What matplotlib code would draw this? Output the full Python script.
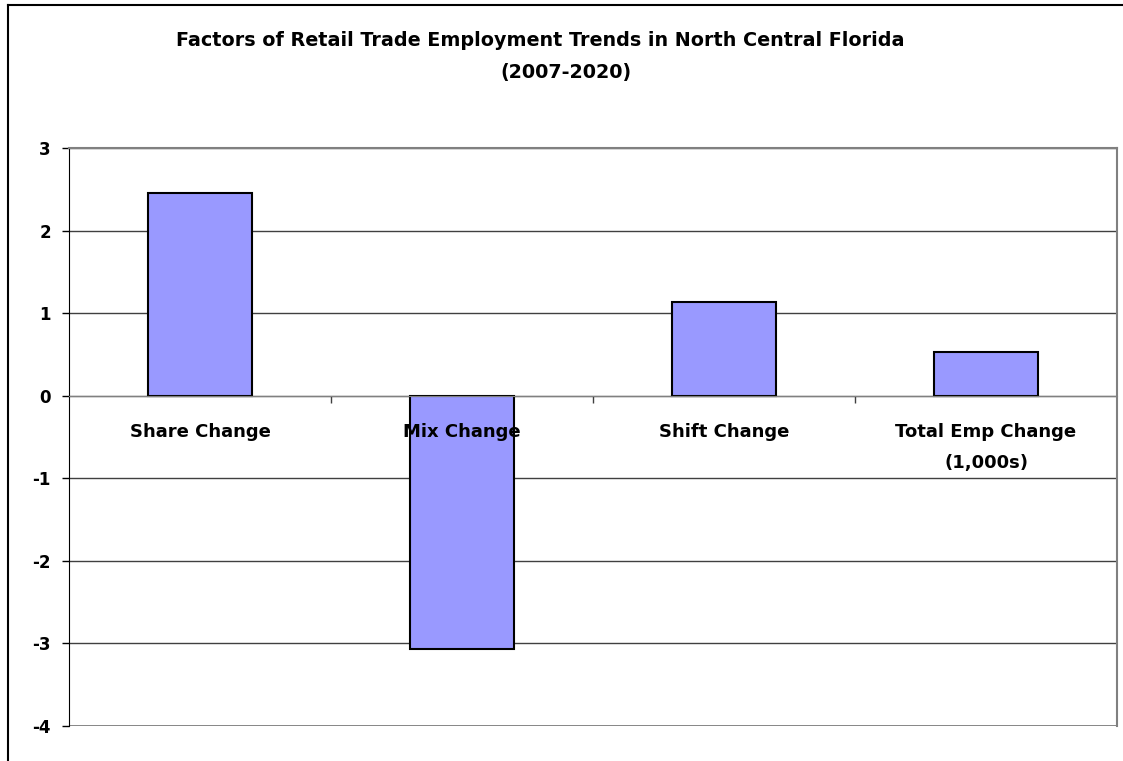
import matplotlib
matplotlib.use("Agg")
import matplotlib.pyplot as plt
from matplotlib.lines import Line2D

categorias = ["Share Change", "Mix Change", "Shift Change", "Total Emp Change\n(1,000s)"]
valores = [2.45, -3.07, 1.14, 0.53]
y_ticks = [-4, -3, -2, -1, 0, 1, 2, 3]

plt.rcParams['font.family'] = ['DejaVu Sans']

fig = plt.figure(figsize=(11.23, 7.61), dpi=100)
ax = fig.add_axes([0.0614, 0.046, 0.9333, 0.7595])

x = list(range(len(categorias)))
ax.bar(x, valores, width=0.4, color="#9999FF", edgecolor="black", linewidth=1.5, zorder=3)

ax.set_xlim(-0.5, len(categorias) - 0.5)
ax.set_ylim(-4, 3)
ax.set_yticks(y_ticks)
ax.set_yticklabels([str(v) for v in y_ticks], fontsize=12, fontweight='bold')
ax.yaxis.grid(True, color="#404040", linewidth=1, zorder=1)
ax.tick_params(axis='y', length=5, width=1, pad=8)

# eixo x na linha do zero, com marcas entre as categorias
ax.spines['bottom'].set_position(('data', 0))
ax.spines['bottom'].set_color("#808080")
ax.spines['bottom'].set_zorder(4)
ax.set_xticks([i + 0.5 for i in x[:-1]])
ax.set_xticklabels([])
ax.tick_params(axis='x', direction='out', length=5, width=1, color="#404040")

for s in ['top', 'right']:
    ax.spines[s].set_color("#808080")
    ax.spines[s].set_linewidth(1.5)
ax.spines['left'].set_color("black")
ax.axhline(-4, color="#808080", linewidth=2, zorder=2)

for i, nome in enumerate(categorias):
    ax.text(i, -0.33, nome, ha='center', va='top', fontsize=13, fontweight='bold',
            linespacing=1.95, zorder=5)

fig.text(0.481, 0.947, "Factors of Retail Trade Employment Trends in North Central Florida",
         ha='center', va='center', fontsize=13.8, fontweight='bold')
fig.text(0.504, 0.905, "(2007-2020)", ha='center', va='center', fontsize=13.8, fontweight='bold')

# moldura externa
fig.add_artist(Line2D([0.0071, 0.0071], [0, 0.9934], color='black', linewidth=1.5))
fig.add_artist(Line2D([0.0071, 1.0], [0.9934, 0.9934], color='black', linewidth=1.5))

fig.savefig("out.png", dpi=100)
